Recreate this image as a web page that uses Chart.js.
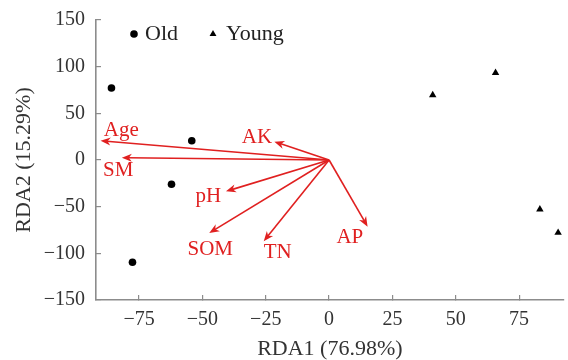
<!DOCTYPE html>
<html>
<head>
<meta charset="utf-8">
<script src="https://cdn.jsdelivr.net/npm/chart.js@4/dist/chart.umd.min.js"></script>
<style>
  html, body { margin: 0; padding: 0; background: #fff; }
  #wrap { width: 568px; height: 360px; }
</style>
</head>
<body>
<div id="wrap"><canvas id="rdaChart" width="568" height="360"></canvas></div>
<script>
// sample scores (RDA1, RDA2)
var oldX = [-85.9, -54.2, -62.2, -77.6];
var oldY = [77.1, 20.7, -26.0, -109.6];
var youngX = [40.9, 65.7, 83.2, 90.4];
var youngY = [69.6, 93.5, -52.8, -77.9];

// environmental vectors
var envNames = ['Age', 'SM', 'AK', 'pH', 'SOM', 'TN', 'AP'];
var envX = [-90.2, -81.8, -21.6, -40.7, -47.3, -25.8, 15.2];
var envY = [20.7, 2.5, 19.6, -33.6, -78.2, -87.1, -71.4];
var envLabelX = [-82, -83.2, -28.5, -47.7, -46.9, -20.3, 8.2];
var envLabelY = [32, -10.7, 24.6, -38.6, -95.4, -98.6, -82.5];

var xTicks = [-75, -50, -25, 0, 25, 50, 75];
var yTicks = [-150, -100, -50, 0, 50, 100, 150];
var xTitle = 'RDA1 (76.98%)';
var yTitle = 'RDA2 (15.29%)';

var serif = '"Liberation Serif", "Times New Roman", serif';
var red = '#e02020';
var axisGray = '#8c8c8c';

function toPoints(xs, ys) {
    return xs.map(function(x, i) { return { x: x, y: ys[i] }; });
}

// Arrows + labels for the environmental factors
var arrowPlugin = {
    id: 'envArrows',
    afterDatasetsDraw: function(chart) {
        var ctx = chart.ctx;
        var xs = chart.scales.x, ys = chart.scales.y;
        var ox = xs.getPixelForValue(0), oy = ys.getPixelForValue(0);
        ctx.save();
        ctx.strokeStyle = red;
        ctx.fillStyle = red;
        ctx.lineWidth = 1.6;
        envNames.forEach(function(name, i) {
            var tx = xs.getPixelForValue(envX[i]);
            var ty = ys.getPixelForValue(envY[i]);
            var dx = ox - tx, dy = oy - ty;
            var len = Math.sqrt(dx * dx + dy * dy);
            var ux = dx / len, uy = dy / len;
            var nx = -uy, ny = ux;
            ctx.beginPath();
            ctx.moveTo(ox, oy);
            ctx.lineTo(tx + ux * 6, ty + uy * 6);
            ctx.stroke();
            ctx.beginPath();
            ctx.moveTo(tx, ty);
            ctx.lineTo(tx + ux * 10 + nx * 4, ty + uy * 10 + ny * 4);
            ctx.lineTo(tx + ux * 7, ty + uy * 7);
            ctx.lineTo(tx + ux * 10 - nx * 4, ty + uy * 10 - ny * 4);
            ctx.closePath();
            ctx.fill();
        });
        ctx.font = '21px ' + serif;
        ctx.textAlign = 'center';
        ctx.textBaseline = 'middle';
        envNames.forEach(function(name, i) {
            ctx.fillText(name, xs.getPixelForValue(envLabelX[i]), ys.getPixelForValue(envLabelY[i]));
        });
        ctx.restore();
    }
};

// Legend drawn inside the plot, top left
var legendPlugin = {
    id: 'innerLegend',
    afterDraw: function(chart) {
        var ctx = chart.ctx;
        var spots = [{ mx: 134, tx: 145 }, { mx: 213, tx: 226 }];
        ctx.save();
        ctx.font = '22px ' + serif;
        ctx.textAlign = 'left';
        ctx.textBaseline = 'middle';
        chart.data.datasets.forEach(function(ds, i) {
            var s = spots[i];
            ctx.fillStyle = '#000';
            Chart.helpers.drawPoint(ctx, {
                pointStyle: ds.pointStyle,
                radius: ds.pointStyle === 'triangle' ? 4 : 3.8,
                borderWidth: 0
            }, s.mx, 34);
            ctx.fillStyle = '#222';
            ctx.fillText(ds.label, s.tx, 34);
        });
        ctx.restore();
    }
};

var ctx = document.getElementById('rdaChart').getContext('2d');
var rdaChart = new Chart(ctx, {
    type: 'scatter',
    data: {
        datasets: [{
            label: 'Old',
            data: toPoints(oldX, oldY),
            pointStyle: 'circle',
            pointRadius: 3.8,
            backgroundColor: '#000',
            borderColor: '#000',
            borderWidth: 0,
            clip: false
        }, {
            label: 'Young',
            data: toPoints(youngX, youngY),
            pointStyle: 'triangle',
            pointRadius: 4.3,
            backgroundColor: '#000',
            borderColor: '#000',
            borderWidth: 0,
            clip: false
        }]
    },
    options: {
        responsive: false,
        animation: false,
        layout: { padding: { top: 20, right: 0, bottom: 0, left: 0 } },
        plugins: {
            legend: { display: false },
            tooltip: { enabled: false }
        },
        scales: {
            x: {
                type: 'linear',
                min: -92,
                max: 92.6,
                afterBuildTicks: function(scale) {
                    scale.ticks = xTicks.map(function(v) { return { value: v }; });
                },
                afterFit: function(scale) {
                    scale.height = 60;
                    scale.paddingLeft = 0;
                    scale.paddingRight = 0;
                },
                border: { display: true, color: axisGray, width: 1.6 },
                grid: { drawOnChartArea: false, drawTicks: true, tickLength: -5, color: axisGray, lineWidth: 1.2 },
                ticks: {
                    padding: 13,
                    color: '#333',
                    font: { family: serif, size: 20 },
                    maxRotation: 0,
                    callback: function(v) { return v < 0 ? '\u2212' + Math.abs(v) : '' + v; }
                },
                title: {
                    display: true,
                    text: xTitle,
                    color: '#333',
                    font: { family: serif, size: 22, lineHeight: 1 },
                    padding: { top: 0, bottom: 0 }
                }
            },
            y: {
                type: 'linear',
                min: -150,
                max: 150,
                afterBuildTicks: function(scale) {
                    scale.ticks = yTicks.map(function(v) { return { value: v }; });
                },
                afterFit: function(scale) {
                    scale.width = 96;
                    scale.paddingTop = 0;
                    scale.paddingBottom = 0;
                },
                border: { display: true, color: axisGray, width: 1.6 },
                grid: { drawOnChartArea: false, drawTicks: true, tickLength: -5, color: axisGray, lineWidth: 1.2 },
                ticks: {
                    padding: 16,
                    color: '#333',
                    font: { family: serif, size: 20 },
                    callback: function(v) { return v < 0 ? '\u2212' + Math.abs(v) : '' + v; }
                },
                title: {
                    display: true,
                    text: yTitle,
                    color: '#333',
                    font: { family: serif, size: 22, lineHeight: 1 },
                    padding: { top: 13, bottom: 0 }
                }
            }
        }
    },
    plugins: [arrowPlugin, legendPlugin]
});
</script>
</body>
</html>
